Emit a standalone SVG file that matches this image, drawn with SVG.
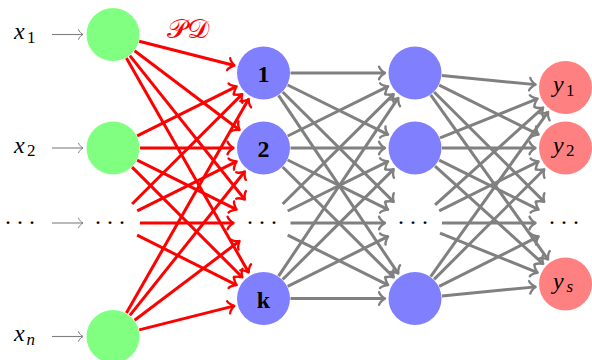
<svg xmlns="http://www.w3.org/2000/svg" width="592" height="360" viewBox="0 0 592 360">
  <defs>
    <style>
      .in { fill: #80ff80; }
      .hid { fill: #8080ff; }
      .out { fill: #ff8080; }
      .red { stroke: #ff0000; stroke-width: 3; fill: none; marker-end: url(#tipR); }
      .gray { stroke: #808080; stroke-width: 3; fill: none; marker-end: url(#tipG); }
      .feed { stroke: #808080; stroke-width: 1.1; fill: none; marker-end: url(#tipT); }
      .math { font-family: "Liberation Serif", "DejaVu Serif", serif; font-size: 24px; fill: #000; }
      .it { font-style: italic; }
      .sub { font-size: 17px; }
      .lbl { font-family: "Liberation Serif", "DejaVu Serif", serif; font-weight: bold; font-size: 24px; text-anchor: middle; fill: #000; }
      .dots { font-family: "Liberation Serif", "DejaVu Serif", serif; font-size: 24px; letter-spacing: 6px; fill: #000; }
      .cal { font-family: "DejaVu Sans", "DejaVu Serif", serif; font-size: 26px; fill: #ff0000; }
    </style>
    <!-- curved "to" style arrow tips -->
    <marker id="tipR" markerUnits="userSpaceOnUse" orient="auto" refX="1.14" refY="0" overflow="visible">
      <path d="M-4.8,6.2 C-4.4,3.9 0,0.4 1.14,0 C0,-0.4 -4.4,-3.9 -4.8,-6.2" fill="none" stroke="#ff0000" stroke-width="2.4" stroke-linecap="round" stroke-linejoin="round"/>
    </marker>
    <marker id="tipG" markerUnits="userSpaceOnUse" orient="auto" refX="1.14" refY="0" overflow="visible">
      <path d="M-4.8,6.2 C-4.4,3.9 0,0.4 1.14,0 C0,-0.4 -4.4,-3.9 -4.8,-6.2" fill="none" stroke="#808080" stroke-width="2.4" stroke-linecap="round" stroke-linejoin="round"/>
    </marker>
    <marker id="tipT" markerUnits="userSpaceOnUse" orient="auto" refX="0.9" refY="0" overflow="visible">
      <path d="M-3.6,4.8 C-3.3,3 0,0.3 0.9,0 C0,-0.3 -3.3,-3 -3.6,-4.8" fill="none" stroke="#808080" stroke-width="1" stroke-linecap="round" stroke-linejoin="round"/>
    </marker>
  </defs>

  <!-- input layer -->
  <g id="in1">
    <text class="math"><tspan class="it" x="14" y="39">x</tspan><tspan class="sub" x="27" y="42.5">1</tspan></text>
    <circle class="in" cx="113" cy="34.5" r="26.5"/>
  </g>
  <g id="in2">
    <text class="math"><tspan class="it" x="14" y="152.5">x</tspan><tspan class="sub" x="27" y="156">2</tspan></text>
    <circle class="in" cx="113" cy="148" r="26.5"/>
  </g>
  <g id="in-dots">
    <text class="dots" x="5" y="224.3">...</text>
    <text class="dots" x="95" y="224.3">...</text>
  </g>
  <g id="in-n">
    <text class="math"><tspan class="it" x="14" y="341">x</tspan><tspan class="sub it" x="26.5" y="344.5">n</tspan></text>
    <circle class="in" cx="113" cy="336.5" r="26.5"/>
  </g>

  <!-- first hidden layer -->
  <g id="h1-1">
    <circle class="hid" cx="263.5" cy="73" r="26.5"/>
    <text class="lbl" x="263.5" y="81.5">1</text>
  </g>
  <g id="h1-2">
    <circle class="hid" cx="263.5" cy="148" r="26.5"/>
    <text class="lbl" x="263.5" y="156.5">2</text>
  </g>
  <g id="h1-dots">
    <text class="dots" x="247" y="224.3">...</text>
  </g>
  <g id="h1-k">
    <circle class="hid" cx="263.5" cy="298.5" r="26.5"/>
    <text class="lbl" x="263.5" y="307.5">k</text>
  </g>

  <!-- second hidden layer -->
  <g id="h2-1"><circle class="hid" cx="415" cy="73" r="26.5"/></g>
  <g id="h2-2"><circle class="hid" cx="415" cy="148" r="26.5"/></g>
  <g id="h2-dots"><text class="dots" x="398" y="224.3">...</text></g>
  <g id="h2-4"><circle class="hid" cx="415" cy="298.5" r="26.5"/></g>

  <!-- output layer -->
  <g id="out1">
    <circle class="out" cx="565.5" cy="87.5" r="26.5"/>
    <text class="math"><tspan class="it" x="553" y="92">y</tspan><tspan class="sub" x="566" y="95.5">1</tspan></text>
  </g>
  <g id="out2">
    <circle class="out" cx="565.5" cy="148" r="26.5"/>
    <text class="math"><tspan class="it" x="553" y="152.5">y</tspan><tspan class="sub" x="566" y="156">2</tspan></text>
  </g>
  <g id="out-dots"><text class="dots" x="549" y="224.3">...</text></g>
  <g id="out-s">
    <circle class="out" cx="565.5" cy="284" r="26.5"/>
    <text class="math"><tspan class="it" x="553" y="288.5">y</tspan><tspan class="sub it" x="566.5" y="292">s</tspan></text>
  </g>

  <!-- edge label -->
  <g id="pd-label">
    <text class="cal" x="167" y="38" textLength="43" lengthAdjust="spacingAndGlyphs">𝒫𝒟</text>
  </g>

  <g id="connectors">
    <!-- inputs feeding the first layer -->
    <line class="feed" x1="52" y1="34.5" x2="83" y2="34.5"/>
    <line class="feed" x1="52" y1="148" x2="83" y2="148"/>
    <line class="feed" x1="52" y1="223" x2="83" y2="223"/>
    <line class="feed" x1="52" y1="336.5" x2="83" y2="336.5"/>

    <!-- input layer to first hidden layer -->
    <line class="red" x1="139.16" y1="41.19" x2="234.44" y2="65.57"/>
    <line class="red" x1="134.56" y1="50.76" x2="239.55" y2="129.94"/>
    <line class="red" x1="129.85" y1="55.60" x2="244.78" y2="199.55"/>
    <line class="red" x1="126.37" y1="57.96" x2="248.64" y2="272.44"/>
    <line class="red" x1="137.17" y1="135.96" x2="236.65" y2="86.38"/>
    <line class="red" x1="140" y1="148" x2="233.5" y2="148"/>
    <line class="red" x1="137.17" y1="160.04" x2="236.65" y2="209.62"/>
    <line class="red" x1="132.09" y1="167.09" x2="242.29" y2="277.29"/>
    <line class="red" x1="132.12" y1="203.94" x2="242.25" y2="94.18"/>
    <line class="red" x1="137.17" y1="210.96" x2="236.65" y2="161.38"/>
    <line class="red" x1="140" y1="223" x2="233.5" y2="223"/>
    <line class="red" x1="137.13" y1="235.11" x2="236.69" y2="285.05"/>
    <line class="red" x1="126.39" y1="313.06" x2="248.62" y2="99.05"/>
    <line class="red" x1="129.85" y1="315.40" x2="244.78" y2="171.45"/>
    <line class="red" x1="134.56" y1="320.24" x2="239.55" y2="241.06"/>
    <line class="red" x1="139.18" y1="329.89" x2="234.41" y2="305.84"/>

    <!-- first to second hidden layer -->
    <line class="gray" x1="290.5" y1="73" x2="385" y2="73"/>
    <line class="gray" x1="287.70" y1="84.98" x2="388.11" y2="134.69"/>
    <line class="gray" x1="282.69" y1="92.00" x2="393.68" y2="201.89"/>
    <line class="gray" x1="278.56" y1="95.41" x2="398.27" y2="273.60"/>
    <line class="gray" x1="287.70" y1="136.02" x2="388.11" y2="86.31"/>
    <line class="gray" x1="290.5" y1="148" x2="385" y2="148"/>
    <line class="gray" x1="287.70" y1="159.98" x2="388.11" y2="209.69"/>
    <line class="gray" x1="282.65" y1="167.03" x2="393.72" y2="277.36"/>
    <line class="gray" x1="282.69" y1="204.00" x2="393.68" y2="94.11"/>
    <line class="gray" x1="287.70" y1="211.02" x2="388.11" y2="161.31"/>
    <line class="gray" x1="290.5" y1="223" x2="385" y2="223"/>
    <line class="gray" x1="287.67" y1="235.04" x2="388.15" y2="285.12"/>
    <line class="gray" x1="278.56" y1="276.09" x2="398.27" y2="97.90"/>
    <line class="gray" x1="282.65" y1="279.47" x2="393.72" y2="169.14"/>
    <line class="gray" x1="287.67" y1="286.46" x2="388.15" y2="236.38"/>
    <line class="gray" x1="290.5" y1="298.5" x2="385" y2="298.5"/>

    <!-- second hidden layer to outputs -->
    <line class="gray" x1="441.88" y1="75.59" x2="535.64" y2="84.62"/>
    <line class="gray" x1="439.17" y1="85.04" x2="538.65" y2="134.62"/>
    <line class="gray" x1="434.12" y1="92.06" x2="544.25" y2="201.82"/>
    <line class="gray" x1="430.68" y1="94.98" x2="548.08" y2="259.58"/>
    <line class="gray" x1="440.05" y1="137.93" x2="537.67" y2="98.69"/>
    <line class="gray" x1="442" y1="148" x2="535.5" y2="148"/>
    <line class="gray" x1="439.17" y1="160.04" x2="538.65" y2="209.62"/>
    <line class="gray" x1="435.03" y1="166.10" x2="543.24" y2="263.89"/>
    <line class="gray" x1="435.07" y1="204.93" x2="543.20" y2="107.57"/>
    <line class="gray" x1="439.17" y1="210.96" x2="538.65" y2="161.38"/>
    <line class="gray" x1="442" y1="223" x2="535.5" y2="223"/>
    <line class="gray" x1="440.02" y1="233.14" x2="537.70" y2="272.73"/>
    <line class="gray" x1="430.68" y1="276.52" x2="548.08" y2="111.92"/>
    <line class="gray" x1="434.09" y1="279.41" x2="544.29" y2="169.21"/>
    <line class="gray" x1="439.13" y1="286.39" x2="538.69" y2="236.45"/>
    <line class="gray" x1="441.88" y1="295.91" x2="535.64" y2="286.88"/>
  </g>
</svg>
